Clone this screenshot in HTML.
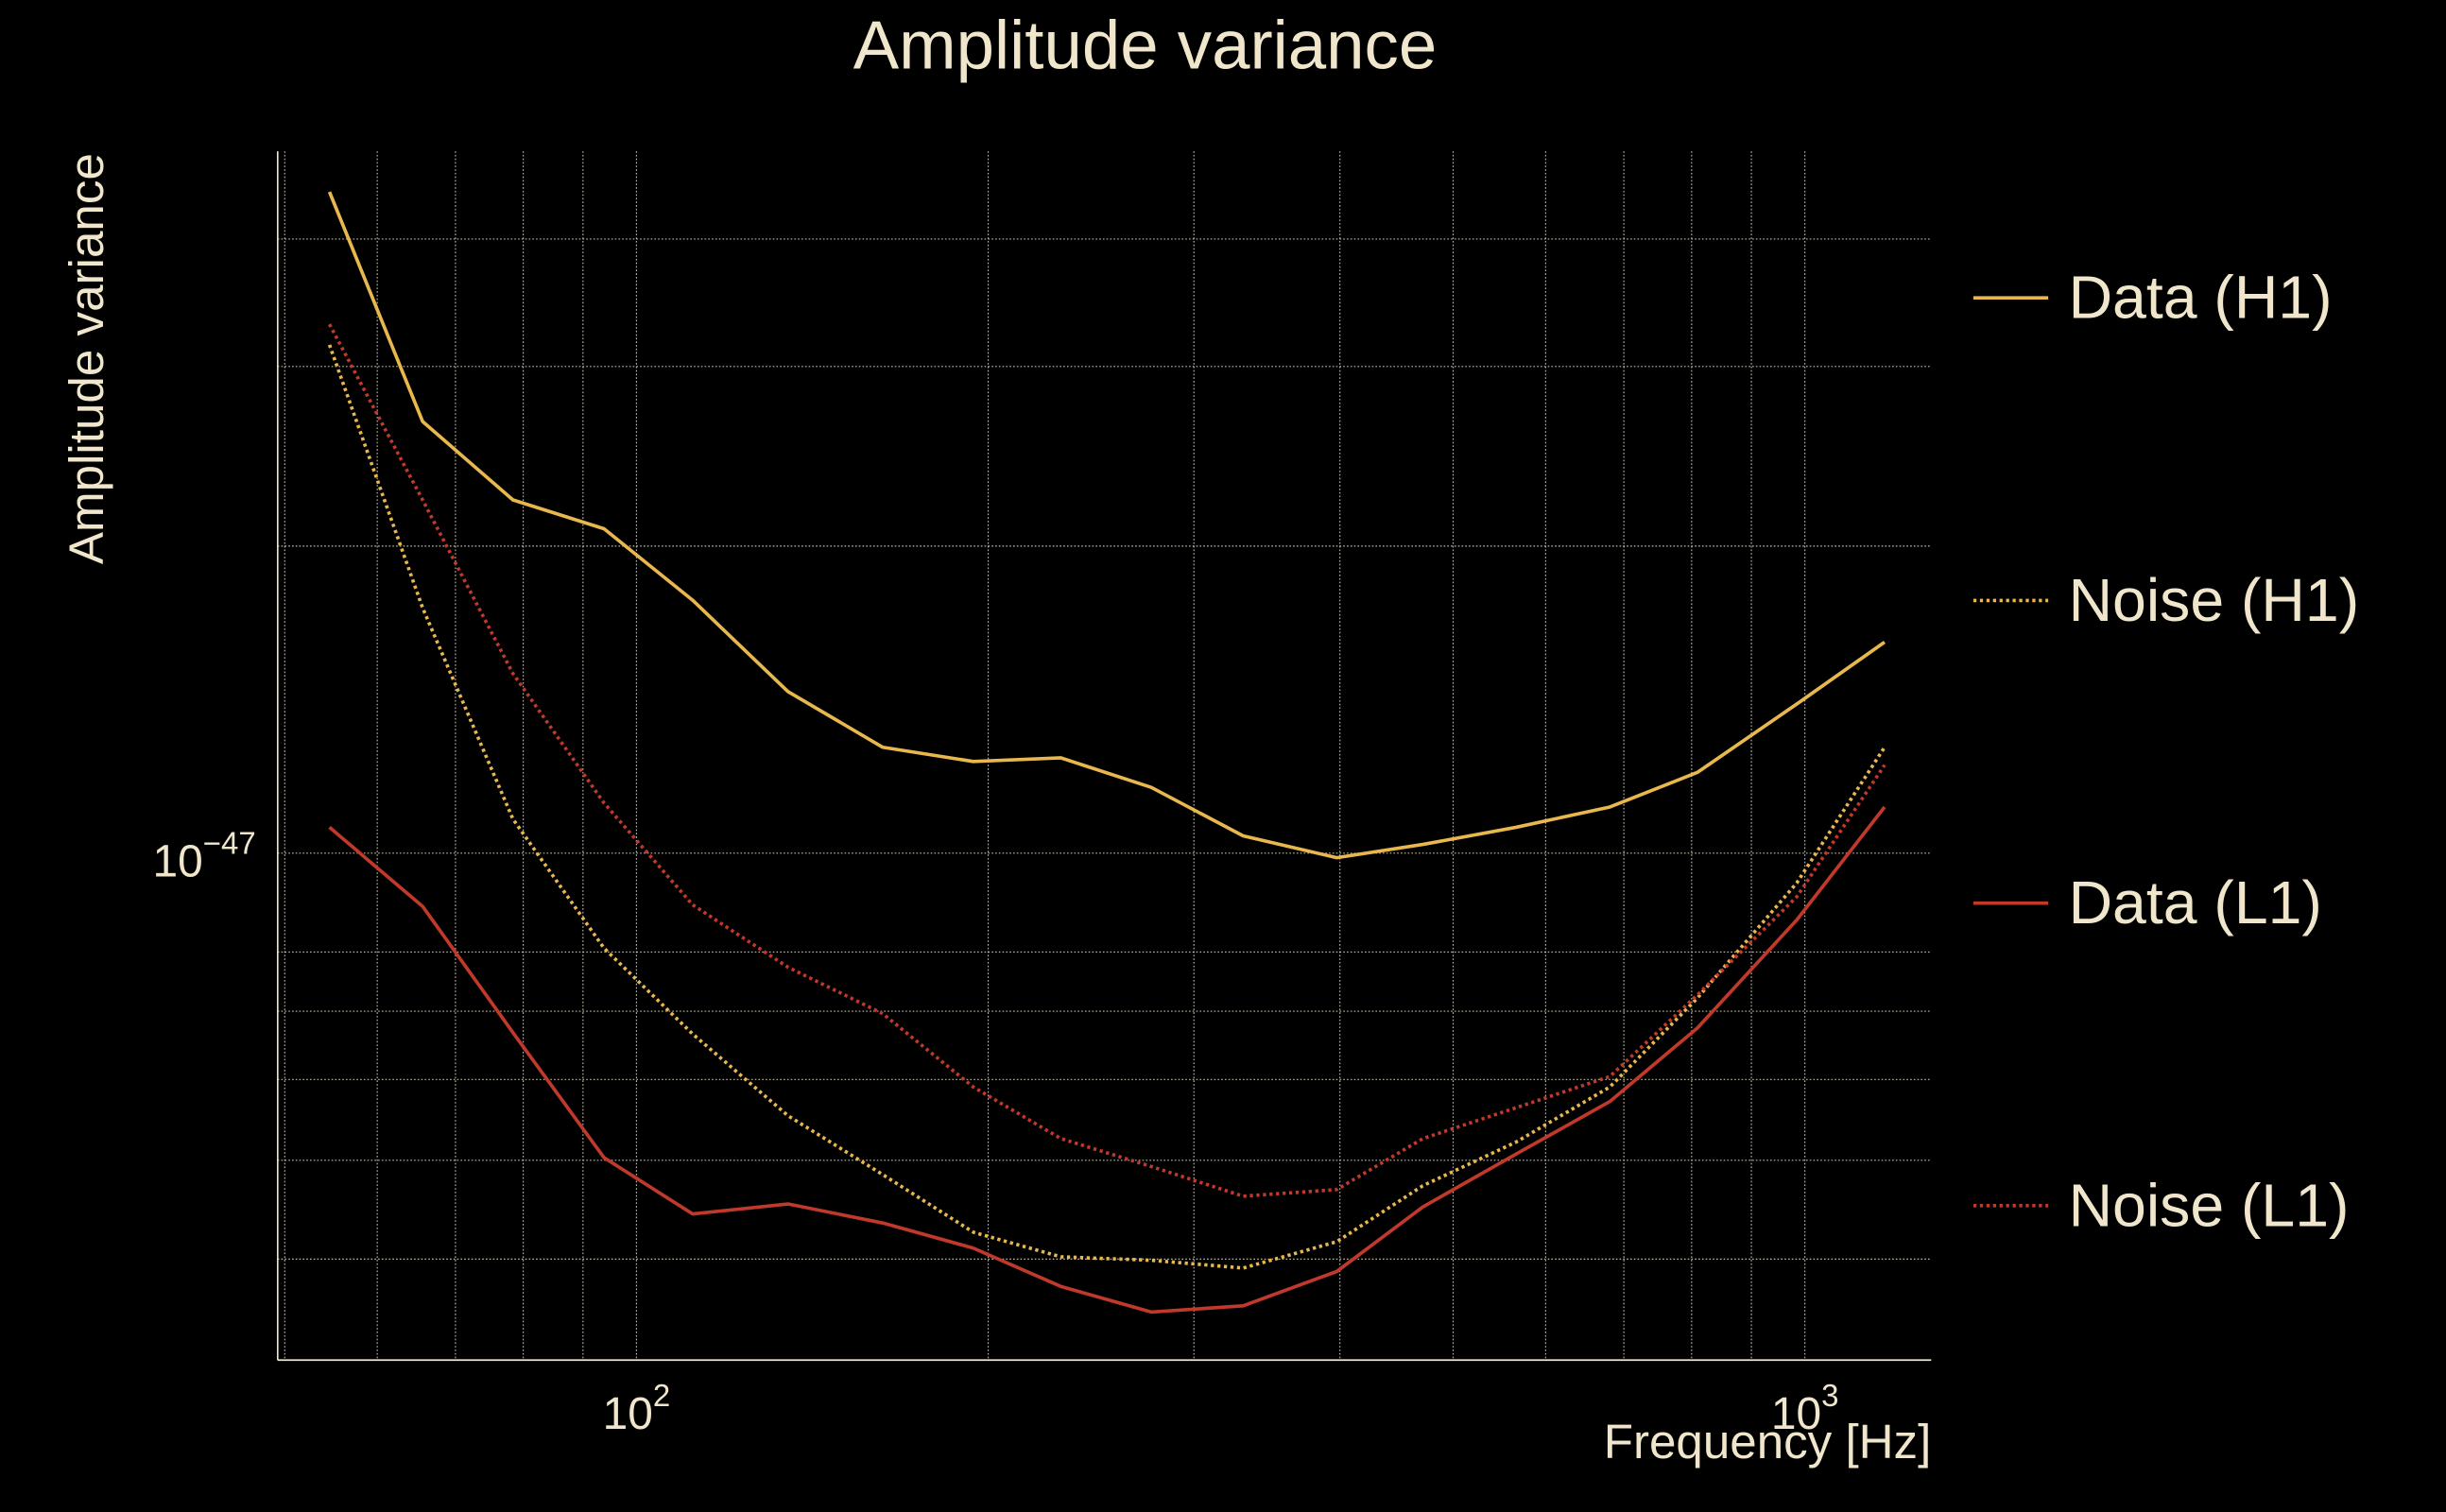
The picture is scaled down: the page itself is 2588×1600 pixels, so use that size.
<!DOCTYPE html>
<html><head><meta charset="utf-8"><style>
html,body{margin:0;padding:0;background:#000;width:2588px;height:1600px;overflow:hidden}
svg{display:block}
text{font-family:"Liberation Sans",sans-serif;fill:#f0e6cc}
</style></head><body>
<svg id="chart" width="2588" height="1600" viewBox="0 0 1568 969.4" xmlns="http://www.w3.org/2000/svg">
<rect width="1568" height="969.4" fill="#000"/>
<text x="734" y="44" font-size="44" text-anchor="middle">Amplitude variance</text>
<text transform="translate(66,230) rotate(-90)" font-size="31" text-anchor="middle">Amplitude variance</text>
<text x="1238" y="935" font-size="31" text-anchor="end" textLength="210" lengthAdjust="spacingAndGlyphs">Frequency [Hz]</text>
<g id="grid"></g>
<g id="axes"></g>
<g id="series"></g>
<g id="legend"></g>
</svg>
<script>
const freqs = [54.6,65.6,78.4,93.8,111.7,134.8,162.5,194.2,230.8,275.8,330.5,397.5,471,566,681,809,984,1170];
const dataH1 = [44.5,26.5,22.2,20.8,17.7,14.4,12.7,12.3,12.4,11.6,10.4,9.9,10.2,10.6,11.1,12.0,14.0,16.1];
const noiseH1 = [31.5,17.4,10.8,8.07,6.65,5.53,4.84,4.25,4.02,3.99,3.92,4.16,4.72,5.21,5.90,7.21,9.35,12.7];
const dataL1 = [10.6,8.87,6.67,5.03,4.43,4.53,4.34,4.10,3.76,3.55,3.60,3.89,4.50,5.07,5.71,6.74,8.60,11.1];
const noiseL1 = [33.0,22.2,15.0,11.2,8.90,7.73,6.96,5.90,5.25,4.93,4.61,4.68,5.25,5.63,6.04,7.26,9.06,12.2];
const xGridVals = [50,60,70,80,90,100,200,300,400,500,600,700,800,900,1000];
const yGridVals = [4,5,6,7,8,10,20,30,40]; // units of 1e-48
const seriesNames = ["Data (H1)","Noise (H1)","Data (L1)","Noise (L1)"];

const NS="http://www.w3.org/2000/svg";
const X0=178,X1=1238,Y0=97,Y1=872;
function xs(f){return 408+(Math.log10(f)-2)*749;}
function ys(v){return 547-(Math.log10(v)-1)*654;}
function mk(tag,attrs,parent){const e=document.createElementNS(NS,tag);for(const k in attrs)e.setAttribute(k,attrs[k]);parent.appendChild(e);return e;}
const grid=document.getElementById('grid'),axes=document.getElementById('axes'),ser=document.getElementById('series'),leg=document.getElementById('legend');
xGridVals.forEach(f=>{const l=mk('line',{x1:xs(f),x2:xs(f),y1:Y0,y2:Y1,stroke:'#f0e6cc','stroke-width':0.7,'stroke-dasharray':'1 1.3',opacity:0.8},grid);

});
yGridVals.forEach(v=>{const l=mk('line',{x1:X0,x2:X1,y1:ys(v),y2:ys(v),stroke:'#f0e6cc','stroke-width':0.7,'stroke-dasharray':'1 1.3',opacity:0.8},grid);

});
let a=mk('line',{x1:X0,x2:X0,y1:Y0,y2:Y1,stroke:'#f0e6cc','stroke-width':1},axes);


a=mk('line',{x1:X0,x2:X1,y1:Y1,y2:Y1,stroke:'#f0e6cc','stroke-width':1},axes);


function sup(x,y,base,exp,anchor,name){const t=mk('text',{x:x,y:y,'font-size':29,'text-anchor':anchor},axes);


t.appendChild(document.createTextNode(base));const s=mk('tspan',{dy:-14.5,'font-size':20},t);s.textContent=exp;}
sup(164,562,'10','\u221247','end','y-tick-label-1e-47');
sup(408,916,'10','2','middle','x-tick-label-100');
sup(1157,916,'10','3','middle','x-tick-label-1000');
const YEL='#e8b84e',RED='#c0392b';
const defs=[[dataH1,YEL,null],[noiseH1,YEL,'2 2.2'],[dataL1,RED,null],[noiseL1,RED,'2 2.2']];
defs.forEach((d,i)=>{const pts=freqs.map((f,j)=>xs(f).toFixed(1)+','+ys(d[0][j]).toFixed(1)).join(' ');
const p=mk('polyline',{points:pts,fill:'none',stroke:d[1],'stroke-width':2.2,'stroke-linejoin':'round'},ser);
if(d[2])p.setAttribute('stroke-dasharray',d[2]);


const ly=191+i*194;
const g=mk('g',{},leg);


const ll=mk('line',{x1:1265,x2:1313,y1:ly,y2:ly,stroke:d[1],'stroke-width':2.2},g);
if(d[2])ll.setAttribute('stroke-dasharray',d[2]);
const t=mk('text',{x:1326,y:ly+13,'font-size':39},g);t.textContent=seriesNames[i];});
</script>
</body></html>
